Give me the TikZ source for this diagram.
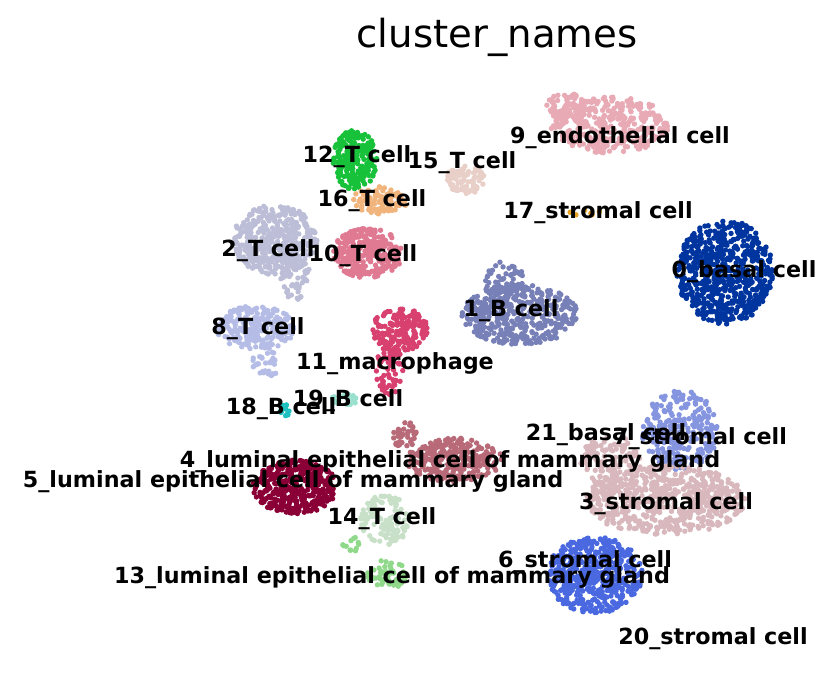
\documentclass[tikz,border=0pt]{standalone}
\usepackage{fontspec}
\setmainfont{DejaVu Sans}
\usetikzlibrary{positioning}
\tikzstyle{label} = [font=\bfseries\fontsize{19}{21}\selectfont, text=black, inner sep=0pt]
\newcommand{\cloud}[6]{% cx, cy, rx, ry, n, colour
  \foreach \k in {1,...,#5} {
    \pgfmathsetmacro\ang{360*rnd}
    \pgfmathsetmacro\rad{sqrt(rnd)}
    \fill[#6] ({#1+#3*\rad*cos(\ang)},{#2+#4*\rad*sin(\ang)}) circle (2.7);
  }
}
\definecolor{c0}{HTML}{0035A0}
\definecolor{c1}{HTML}{7880B8}
\definecolor{c2}{HTML}{BCBDD6}
\definecolor{c3}{HTML}{D8B8BC}
\definecolor{c4}{HTML}{B86A78}
\definecolor{c5}{HTML}{8A0036}
\definecolor{c6}{HTML}{4A68E0}
\definecolor{c7}{HTML}{8595E0}
\definecolor{c8}{HTML}{B5BDE6}
\definecolor{c9}{HTML}{E8AAB5}
\definecolor{c10}{HTML}{E07A92}
\definecolor{c11}{HTML}{D84070}
\definecolor{c12}{HTML}{17C23A}
\definecolor{c13}{HTML}{90D88A}
\definecolor{c14}{HTML}{C8E0C8}
\definecolor{c15}{HTML}{E8D0C8}
\definecolor{c16}{HTML}{F0B47C}
\definecolor{c17}{HTML}{E8A020}
\definecolor{c18}{HTML}{20C0C0}
\definecolor{c19}{HTML}{9AE0CF}
\begin{document}
\begin{tikzpicture}[x=0.03cm, y=-0.03cm]
\pgfmathsetseed{7}
\useasboundingbox (0,0) rectangle (829,694);

%% CLUSTERS

\cloud{725}{272}{48}{52}{650}{c0}
\cloud{520}{315}{58}{30}{420}{c1}
\cloud{505}{285}{20}{25}{80}{c1}
\cloud{275}{240}{42}{35}{420}{c2}
\cloud{295}{275}{15}{25}{60}{c2}
\cloud{255}{328}{40}{22}{230}{c8}
\cloud{265}{365}{15}{15}{30}{c8}
\cloud{368}{253}{35}{25}{280}{c10}
\cloud{355}{160}{22}{30}{230}{c12}
\cloud{465}{180}{20}{14}{80}{c15}
\cloud{380}{200}{28}{14}{90}{c16}
\cloud{610}{125}{60}{28}{380}{c9}
\cloud{570}{105}{25}{12}{60}{c9}
\cloud{590}{213}{22}{4}{6}{c17}
\cloud{400}{330}{28}{22}{170}{c11}
\cloud{390}{370}{14}{25}{70}{c11}
\cloud{345}{400}{15}{6}{20}{c19}
\cloud{285}{410}{5}{6}{15}{c18}
\cloud{455}{460}{48}{22}{280}{c4}
\cloud{405}{435}{12}{15}{40}{c4}
\cloud{295}{487}{42}{27}{420}{c5}
\cloud{385}{520}{25}{25}{110}{c14}
\cloud{387}{575}{20}{15}{55}{c13}
\cloud{350}{545}{10}{10}{12}{c13}
\cloud{680}{430}{38}{40}{280}{c7}
\cloud{665}{500}{80}{35}{620}{c3}
\cloud{610}{460}{30}{25}{110}{c3}
\cloud{595}{575}{48}{38}{500}{c6}

%% LABELS

\node (title) at (497,37) {\fontsize{33}{38}\selectfont cluster\_names};
\node (l9) [label] at (620,138) {9\_endothelial cell};
\node (l12) [label] at (357,157) {12\_T cell};
\node (l15) [label] at (462,163) {15\_T cell};
\node (l16) [label] at (372,201) {16\_T cell};
\node (l17) [label] at (598,213) {17\_stromal cell};
\node (l2) [label] at (268,251) {2\_T cell};
\node (l10) [label] at (363,256) {10\_T cell};
\node (l0) [label] at (744,272) {0\_basal cell};
\node (l1) [label] at (511,311) {1\_B cell};
\node (l8) [label] at (258,329) {8\_T cell};
\node (l11) [label] at (395,364) {11\_macrophage};
\node (l19) [label] at (348,401) {19\_B cell};
\node (l18) [label] at (281,409) {18\_B cell};
\node (l7) [label] at (700,439) {7\_stromal cell};
\node (l21) [label] at (606,435) {21\_basal cell};
\node (l4) [label] at (450,462) {4\_luminal epithelial cell of mammary gland};
\node (l5) [label] at (293,482) {5\_luminal epithelial cell of mammary gland};
\node (l3) [label] at (666,504) {3\_stromal cell};
\node (l14) [label] at (382,519) {14\_T cell};
\node (l6) [label] at (585,562) {6\_stromal cell};
\node (l13) [label] at (392,578) {13\_luminal epithelial cell of mammary gland};
\node (l20) [label] at (713,639) {20\_stromal cell};

\end{tikzpicture}
\end{document}
